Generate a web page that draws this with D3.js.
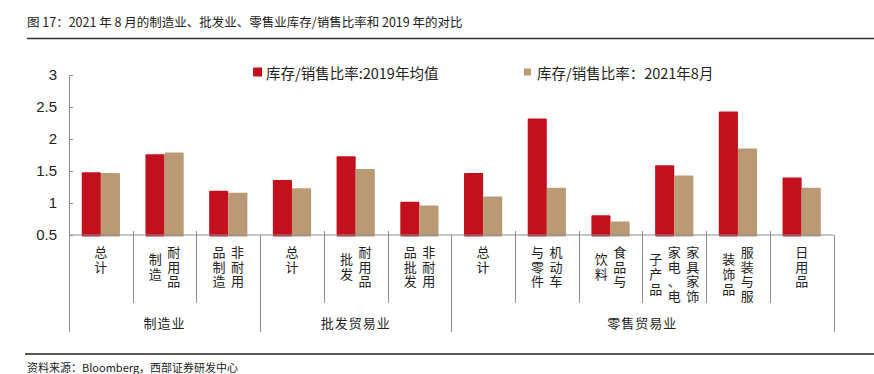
<!DOCTYPE html>
<html>
<head>
<meta charset="utf-8">
<script src="https://cdn.jsdelivr.net/npm/d3@7/dist/d3.min.js"></script>
<style>
  html, body { margin: 0; padding: 0; background: #fff; }
  svg { display: block; }
  .cjk { font-family: "Noto Sans CJK SC", "Noto Sans", sans-serif; fill: #222; }
  .num { font-family: "Liberation Sans", Arial, sans-serif; fill: #222; }
</style>
</head>
<body>
<script>
// Chart data
const titleText = '图 17：2021 年 8 月的制造业、批发业、零售业库存/销售比率和 2019 年的对比';
const sourceText = '资料来源：Bloomberg，西部证券研发中心';
const seriesNames = ['库存/销售比率:2019年均值', '库存/销售比率：2021年8月'];
// each category label is written as vertical columns, right to left
const categoryColumns = [
  ['总计'], ['耐用品', '制造'], ['非耐用', '品制造'],
  ['总计'], ['耐用品', '批发'], ['非耐用', '品批发'],
  ['总计'], ['机动车', '与零件'], ['食品与', '饮料'],
  ['家具家饰', '家电、电', '子产品'], ['服装与服', '装饰品'], ['日用品']
];
const values2019 = [1.48, 1.76, 1.19, 1.36, 1.73, 1.02, 1.47, 2.32, 0.81, 1.59, 2.43, 1.40];
const values2021 = [1.47, 1.79, 1.16, 1.23, 1.53, 0.96, 1.10, 1.24, 0.71, 1.43, 1.85, 1.24];
const groupNames = ['制造业', '批发贸易业', '零售贸易业'];
const groupSizes = [3, 3, 6];
const yTicks = [0.5, 1, 1.5, 2, 2.5, 3];

const WIDTH = 874, HEIGHT = 374;
const colors = ['#c3101e', '#b99a75'];
const axisColor = '#8c8c8c';

const svg = d3.select('body').append('svg')
  .attr('width', WIDTH)
  .attr('height', HEIGHT);

// Title and rules
svg.append('text').attr('class', 'cjk')
  .attr('x', 27).attr('y', 27)
  .style('font-size', '12.5px')
  .text(titleText);
svg.append('line')
  .attr('x1', 27).attr('x2', 874).attr('y1', 38.5).attr('y2', 38.5)
  .attr('stroke', '#333').attr('stroke-width', 1.3);
svg.append('line')
  .attr('x1', 25).attr('x2', 874).attr('y1', 354).attr('y2', 354)
  .attr('stroke', '#222').attr('stroke-width', 1.6);
svg.append('text').attr('class', 'cjk')
  .attr('x', 27).attr('y', 372)
  .style('font-size', '11px')
  .text(sourceText);

// Scales
const idx = d3.range(categoryColumns.length);
const x = d3.scaleBand().domain(idx).range([69, 833.5]).padding(0);
const bw = x.bandwidth();
const x1 = d3.scaleBand().domain([0, 1]).range([bw * 0.2, bw * 0.8]).padding(0);
const y = d3.scaleLinear().domain([0.5, 3]).range([235, 75]);

// Bars
const series = [values2019, values2021];
series.forEach((vals, s) => {
  svg.append('g').selectAll('rect')
    .data(vals)
    .join('rect')
    .attr('x', (d, i) => x(i) + x1(s))
    .attr('y', d => y(d))
    .attr('width', x1.bandwidth())
    .attr('height', d => y(0.5) - y(d) + 1.5)
    .attr('rx', 1)
    .attr('fill', colors[s]);
});

// Y axis
const yAxis = d3.axisLeft(y)
  .tickValues(yTicks)
  .tickFormat(d3.format('~g'))
  .tickSize(-4)
  .tickSizeOuter(0)
  .tickPadding(12);
const gy = svg.append('g')
  .attr('transform', 'translate(69,0)')
  .call(yAxis);
gy.selectAll('path, line').attr('stroke', axisColor);
gy.selectAll('text')
  .attr('class', 'num')
  .style('font-size', '15px')
  .attr('fill', '#222');

// X axis line
svg.append('line')
  .attr('x1', 69).attr('x2', 833.5)
  .attr('y1', y(0.5)).attr('y2', y(0.5))
  .attr('stroke', axisColor);

// Separators: short between categories, long between groups
const groupStarts = [0];
groupSizes.forEach((n, i) => groupStarts.push(groupStarts[i] + n));
const boundaries = d3.range(categoryColumns.length + 1);
const bx = d => Math.round(d < idx.length ? x(d) : x(idx.length - 1) + bw) + 0.5;
svg.append('g').selectAll('line')
  .data(boundaries)
  .join('line')
  .attr('x1', bx)
  .attr('x2', bx)
  .attr('y1', d => groupStarts.includes(d) ? y(0.5) : 231)
  .attr('y2', d => groupStarts.includes(d) ? 332 : 303)
  .attr('stroke', axisColor);

// Category labels (vertical, columns right to left, one text per character)
const pitch = 14.6, colGap = 18.5, topY = 251.5;
const catG = svg.append('g').selectAll('g')
  .data(categoryColumns)
  .join('g')
  .attr('transform', (d, i) => `translate(${x(i) + bw / 2},0)`);
catG.each(function(cols) {
  const maxLen = d3.max(cols, c => c.length);
  const n = cols.length;
  cols.forEach((col, ci) => {
    const cx = ((n - 1) / 2 - ci) * colGap;
    const y0 = topY + (maxLen - col.length) * pitch / 2;
    d3.select(this).selectAll(null)
      .data(Array.from(col))
      .join('text')
      .attr('class', 'cjk')
      .attr('x', cx)
      .attr('y', (ch, k) => y0 + k * pitch)
      .attr('text-anchor', 'middle')
      .attr('dominant-baseline', 'central')
      .style('font-size', '13px')
      .text(ch => ch);
  });
});

// Group labels
svg.append('g').selectAll('text')
  .data(groupNames)
  .join('text')
  .attr('class', 'cjk')
  .attr('x', (d, i) => {
    const a = x(groupStarts[i]);
    const b = x(groupStarts[i + 1] - 1) + bw;
    return (a + b) / 2;
  })
  .attr('y', 322.5)
  .attr('text-anchor', 'middle')
  .attr('dominant-baseline', 'central')
  .style('font-size', '13px')
  .style('letter-spacing', '1px')
  .text(d => d);

// Legend
const legendX = [253, 524];
const legendSize = [9, 7];
const leg = svg.append('g').selectAll('g')
  .data(seriesNames)
  .join('g')
  .attr('transform', (d, i) => `translate(${legendX[i]},72)`);
leg.append('rect')
  .attr('x', 0)
  .attr('y', (d, i) => -legendSize[i] / 2)
  .attr('width', (d, i) => legendSize[i])
  .attr('height', (d, i) => legendSize[i])
  .attr('fill', (d, i) => colors[i]);
leg.append('text')
  .attr('class', 'cjk')
  .attr('x', 13)
  .attr('y', 0)
  .attr('dominant-baseline', 'central')
  .style('font-size', '14.5px')
  .text(d => d);
</script>
</body>
</html>
